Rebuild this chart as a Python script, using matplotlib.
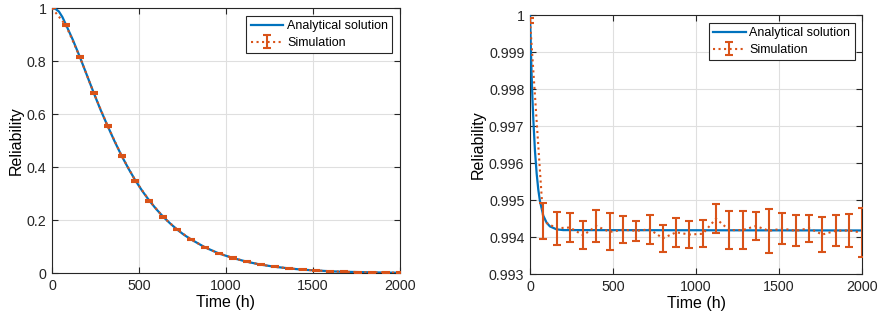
import matplotlib.pyplot as plt
import numpy as np

plt.rcParams['font.family'] = ['Liberation Sans', 'DejaVu Sans']

blue = '#0072BD'
orange = '#D95319'

# left panel: analytical curve
t_ana_l = [0, 20, 40, 60, 80, 120, 160, 200, 240, 280, 320, 360, 400, 440, 480,
           520, 560, 600, 640, 680, 720, 760, 800, 880, 960, 1040, 1120, 1200,
           1280, 1360, 1440, 1520, 1600, 1680, 1760, 1840, 1920, 2000]
r_ana_l = [1.0, 0.997, 0.987, 0.966, 0.938, 0.880, 0.816, 0.748, 0.680, 0.615,
           0.555, 0.497, 0.443, 0.394, 0.349, 0.309, 0.273, 0.241, 0.212, 0.187,
           0.164, 0.144, 0.127, 0.097, 0.074, 0.057, 0.043, 0.032, 0.024, 0.018,
           0.013, 0.010, 0.007, 0.005, 0.004, 0.003, 0.002, 0.0015]

# simulation points every 80 h
t_sim = list(range(0, 2001, 80))
r_sim_l = [1.0, 0.935, 0.816, 0.680, 0.555, 0.443, 0.348, 0.273, 0.211, 0.164,
           0.127, 0.097, 0.074, 0.057, 0.043, 0.032, 0.024, 0.018, 0.013, 0.010,
           0.007, 0.005, 0.004, 0.003, 0.002, 0.0015]
err_l = [0.0, 0.004, 0.004, 0.004, 0.004, 0.004, 0.004, 0.004, 0.004, 0.003,
         0.003, 0.003, 0.003, 0.002, 0.002, 0.002, 0.002, 0.002, 0.002, 0.002,
         0.002, 0.002, 0.002, 0.002, 0.002, 0.002]

# right panel
t_ana_r = [0, 5, 10, 15, 20, 30, 40, 50, 60, 80, 100, 120, 160, 200, 2000]
r_ana_r = [1.0, 0.99912, 0.99835, 0.99771, 0.99717, 0.99632, 0.99572, 0.99528,
           0.99497, 0.99458, 0.99439, 0.99429, 0.99421, 0.99419, 0.99418]
r_sim_r = [0.99985, 0.99443, 0.99424, 0.99426, 0.99405, 0.99430, 0.99414,
           0.99420, 0.99417, 0.99421, 0.99397, 0.99413, 0.99407, 0.99409,
           0.99450, 0.99419, 0.99419, 0.99430, 0.99417, 0.99423, 0.99417,
           0.99424, 0.99407, 0.99417, 0.99418, 0.99412]
err_r = [0.00007, 0.00048, 0.00045, 0.00040, 0.00038, 0.00043, 0.00050,
         0.00037, 0.00027, 0.00039, 0.00037, 0.00040, 0.00036, 0.00037,
         0.00040, 0.00052, 0.00052, 0.00038, 0.00060, 0.00042, 0.00042,
         0.00036, 0.00047, 0.00042, 0.00045, 0.00066]

fig = plt.figure(figsize=(8.81, 3.24), dpi=100)
ax1 = fig.add_axes([0.059, 0.157, 0.395, 0.818])
ax2 = fig.add_axes([0.6016, 0.154, 0.377, 0.799])


def style(ax):
    ax.grid(True, color='#dfdfdf', linewidth=0.8, zorder=0)
    ax.set_axisbelow(True)
    ax.tick_params(direction='in', top=True, right=True, length=4,
                   width=0.8, labelsize=10.3, colors='#262626', pad=4)
    for s in ax.spines.values():
        s.set_color('#262626')
        s.set_linewidth(0.8)
    ax.set_xlim(0, 2000)
    ax.set_xticks([0, 500, 1000, 1500, 2000])
    ax.set_xlabel('Time (h)', fontsize=11.5, labelpad=2)
    ax.set_ylabel('Reliability', fontsize=11.5, labelpad=2)


for ax, ta, ra, rs, es in [(ax1, t_ana_l, r_ana_l, r_sim_l, err_l),
                           (ax2, t_ana_r, r_ana_r, r_sim_r, err_r)]:
    ax.plot(ta, ra, color=blue, linewidth=1.6, label='Analytical solution', zorder=3)
    ax.errorbar(t_sim, rs, yerr=es, color=orange, linestyle=':', linewidth=1.5,
                elinewidth=1.5, capsize=3, capthick=1.5, label='Simulation', zorder=4)
    style(ax)
    leg = ax.legend(loc='upper right', fontsize=9, fancybox=False, framealpha=1,
                    edgecolor='#262626', borderpad=0.35, labelspacing=0.4,
                    handlelength=2.6, handletextpad=0.3, borderaxespad=0.6)
    leg.get_frame().set_linewidth(0.8)

ax1.set_ylim(0, 1)
ax1.set_yticks([0, 0.2, 0.4, 0.6, 0.8, 1])
ax1.set_yticklabels(['0', '0.2', '0.4', '0.6', '0.8', '1'])

ax2.set_ylim(0.993, 1)
ax2.set_yticks([0.993, 0.994, 0.995, 0.996, 0.997, 0.998, 0.999, 1])
ax2.set_yticklabels(['0.993', '0.994', '0.995', '0.996', '0.997', '0.998', '0.999', '1'])

fig.savefig('out.png', dpi=100)
